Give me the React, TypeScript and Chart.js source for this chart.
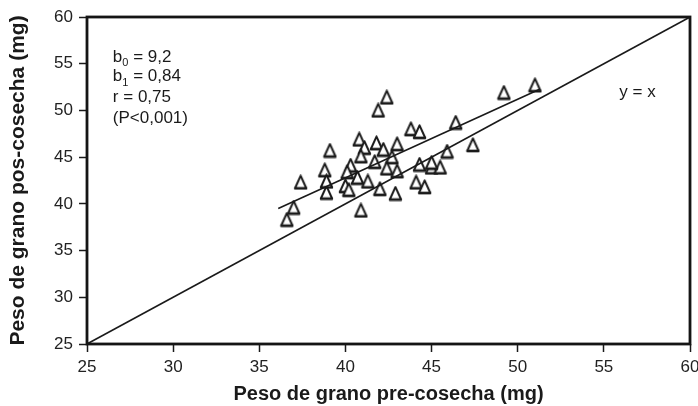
import React, { useEffect, useRef } from "react";
import { Chart, registerables } from "chart.js";

Chart.register(...registerables);

// ---- data ----
const TICKS = [25, 30, 35, 40, 45, 50, 55, 60];
const preHarvest = [
  42.4, 41.9, 49.2, 51.0, 46.4, 43.8, 44.3, 40.8, 41.8, 43.0,
  47.4, 39.1, 45.9, 41.1, 42.2, 40.9, 42.7, 44.3, 45.0, 45.5,
  38.8, 40.3, 41.7, 42.4, 43.0, 37.4, 38.9, 40.0, 40.7, 44.1,
  44.6, 42.0, 42.9, 41.3, 37.0, 36.6, 40.9, 38.9, 45.0, 40.2,
  40.1,
];
const postHarvest = [
  51.4, 50.0, 51.9, 52.7, 48.7, 48.0, 47.7, 46.9, 46.5, 46.4,
  46.3, 45.7, 45.6, 46.0, 45.8, 45.1, 45.0, 44.2, 43.9, 43.9,
  43.6, 44.1, 44.5, 43.8, 43.5, 42.3, 41.2, 41.9, 42.8, 42.3,
  41.8, 41.6, 41.1, 42.4, 39.6, 38.3, 39.3, 42.4, 44.4, 41.5,
  43.4,
];
const identityX = [25, 60];
const identityY = [25, 60];
const fitX = [36.1, 51.3];
const fitY = [39.5, 52.3];

const statsText = [
  { main: "b", sub: "0", rest: " = 9,2" },
  { main: "b", sub: "1", rest: " = 0,84" },
  { main: "r = 0,75", sub: "", rest: "" },
  { main: "(P<0,001)", sub: "", rest: "" },
];
const identityLabel = "y = x";

// ---- layout / style constants ----
const FONT = "'Liberation Sans', Arial, Helvetica, sans-serif";
const STATS_POS = { x: 26.5, y: [55.7, 53.6, 51.4, 49.2] };
const IDENTITY_POS = { x: 55.9, y: 51.9 };

function makeTriangle(): HTMLCanvasElement {
  const c = document.createElement("canvas");
  c.width = 15;
  c.height = 16;
  const g = c.getContext("2d")!;
  g.beginPath();
  g.moveTo(7.5, 1.3);
  g.lineTo(1.8, 14.0);
  g.lineTo(13.2, 14.0);
  g.closePath();
  g.fillStyle = "#fff";
  g.fill();
  g.lineJoin = "round";
  g.lineWidth = 2.0;
  g.strokeStyle = "#1a1a1a";
  g.stroke();
  g.beginPath();
  g.moveTo(1.3, 14.0);
  g.lineTo(13.7, 14.0);
  g.lineWidth = 2.7;
  g.stroke();
  return c;
}

const framePlugin = {
  id: "frame",
  afterDatasetsDraw(chart: any) {
    const { ctx, chartArea } = chart;
    const { left, top, right, bottom } = chartArea;
    ctx.save();
    ctx.strokeStyle = "#151515";
    ctx.lineWidth = 2.8;
    ctx.strokeRect(left, top, right - left, bottom - top);
    ctx.restore();
  },
};

const textPlugin = {
  id: "annotations",
  afterDraw(chart: any) {
    const { ctx } = chart;
    const xs = chart.scales.x;
    const ys = chart.scales.y;
    ctx.save();
    ctx.fillStyle = "#1a1a1a";
    ctx.textBaseline = "middle";
    ctx.textAlign = "left";
    const big = `17px ${FONT}`;
    const small = `11px ${FONT}`;
    statsText.forEach((line, i) => {
      let x = xs.getPixelForValue(STATS_POS.x);
      const y = ys.getPixelForValue(STATS_POS.y[i]);
      ctx.font = big;
      ctx.fillText(line.main, x, y);
      x += ctx.measureText(line.main).width;
      if (line.sub) {
        ctx.font = small;
        ctx.fillText(line.sub, x, y + 6);
        x += ctx.measureText(line.sub).width;
      }
      if (line.rest) {
        ctx.font = big;
        ctx.fillText(line.rest, x, y);
      }
    });
    ctx.font = big;
    ctx.fillText(
      identityLabel,
      xs.getPixelForValue(IDENTITY_POS.x),
      ys.getPixelForValue(IDENTITY_POS.y)
    );
    ctx.restore();
  },
};

export default function App() {
  const ref = useRef<HTMLCanvasElement | null>(null);

  useEffect(() => {
    const canvas = ref.current;
    if (!canvas) return;
    const tri = makeTriangle();
    const chart = new Chart(canvas, {
      type: "scatter",
      data: {
        datasets: [
          {
            type: "line",
            label: "y = x",
            data: identityX.map((x, i) => ({ x, y: identityY[i] })),
            borderColor: "#1a1a1a",
            borderWidth: 1.6,
            pointRadius: 0,
            fill: false,
          } as any,
          {
            type: "line",
            label: "regresión",
            data: fitX.map((x, i) => ({ x, y: fitY[i] })),
            borderColor: "#1a1a1a",
            borderWidth: 1.6,
            pointRadius: 0,
            fill: false,
          } as any,
          {
            label: "granos",
            data: preHarvest.map((x, i) => ({ x, y: postHarvest[i] })),
            pointStyle: tri,
            pointRadius: 7,
          },
        ],
      },
      options: {
        responsive: false,
        animation: false,
        layout: { padding: { left: 0, top: 17, right: 6, bottom: 0 } },
        plugins: {
          legend: { display: false },
          tooltip: { enabled: false },
        },
        scales: {
          x: {
            type: "linear",
            min: 25,
            max: 60,
            afterBuildTicks: (s: any) => {
              s.ticks = TICKS.map((v) => ({ value: v }));
            },
            afterFit: (s: any) => {
              s.height = 62;
              s.paddingLeft = 0;
              s.paddingRight = 0;
            },
            ticks: {
              color: "#222",
              font: { family: FONT, size: 17 },
              padding: 5,
              maxRotation: 0,
            },
            grid: {
              drawOnChartArea: false,
              drawTicks: true,
              tickLength: 8,
              tickColor: "#1a1a1a",
              tickWidth: 1.5,
            },
            border: { display: false },
            title: {
              display: true,
              text: "Peso de grano pre-cosecha (mg)",
              color: "#1a1a1a",
              font: { family: FONT, size: 20, weight: "bold" },
              padding: { top: 0, bottom: 0 },
            },
          },
          y: {
            type: "linear",
            min: 25,
            max: 60,
            afterBuildTicks: (s: any) => {
              s.ticks = TICKS.map((v) => ({ value: v }));
            },
            afterFit: (s: any) => {
              s.width = 87;
              s.paddingTop = 0;
              s.paddingBottom = 0;
            },
            ticks: {
              color: "#222",
              font: { family: FONT, size: 17 },
              padding: 6,
            },
            grid: {
              drawOnChartArea: false,
              drawTicks: true,
              tickLength: 8,
              tickColor: "#1a1a1a",
              tickWidth: 1.5,
            },
            border: { display: false },
            title: {
              display: true,
              text: "Peso de grano pos-cosecha (mg)",
              color: "#1a1a1a",
              font: { family: FONT, size: 21, weight: "bold" },
              padding: { top: 6, bottom: 0 },
            },
          },
        },
      },
      plugins: [framePlugin, textPlugin],
    });
    return () => chart.destroy();
  }, []);

  return (
    <div
      style={{
        position: "fixed",
        left: 0,
        top: 0,
        width: 698,
        height: 406,
        background: "#fff",
      }}
    >
      <canvas ref={ref} width={698} height={406} />
    </div>
  );
}
